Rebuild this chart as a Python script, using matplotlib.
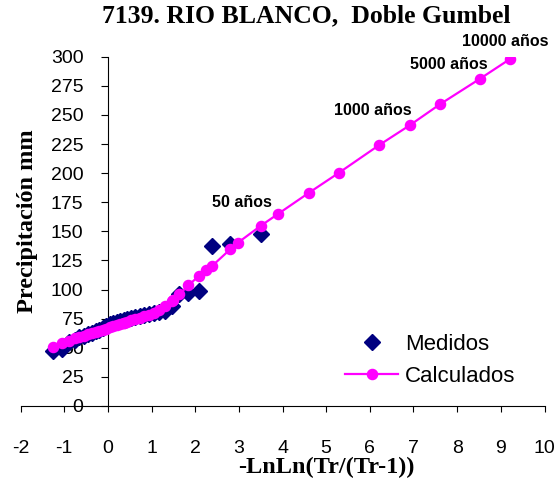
import matplotlib
matplotlib.use("Agg")
import matplotlib.pyplot as plt
from matplotlib import font_manager

# data
med_x = [-1.26, -1.04, -0.89, -0.76, -0.65, -0.55, -0.46, -0.37, -0.28, -0.20, -0.12,
         -0.04, 0.04, 0.12, 0.20, 0.28, 0.37, 0.45, 0.54, 0.63, 0.73, 0.83, 0.94,
         1.05, 1.18, 1.32, 1.47, 1.64, 1.84, 2.08, 2.38, 2.80, 3.51]
med_y = [47, 49, 55, 57, 59, 60, 61.5, 63, 64, 65.5, 67,
         69, 70, 71, 72, 73, 74, 75, 75.5, 76.5, 77, 78, 79,
         80, 81, 82, 86, 96, 97, 99, 137, 139, 148]

calc_x = [-1.26, -1.04, -0.89, -0.76, -0.65, -0.55, -0.46, -0.37, -0.28, -0.20, -0.12,
          -0.04, 0.04, 0.12, 0.20, 0.28, 0.37, 0.37, 0.45, 0.54, 0.63, 0.73, 0.83,
          0.94, 1.05, 1.18, 1.32, 1.47, 1.50, 1.64, 1.84, 2.08, 2.25, 2.38, 2.80,
          2.97, 3.51, 3.90, 4.60, 5.30, 6.21, 6.91, 7.60, 8.52, 9.21]
calc_y = [51, 54, 56, 58, 59.5, 60.5, 61.5, 62.5, 63.5, 64.5, 65.5,
          66.5, 67.5, 68.5, 69.5, 70.5, 71.5, 71.5, 72.5, 73.5, 74.5, 76, 77,
          78.5, 80, 82.5, 85.5, 90, 91, 96, 103.5, 111.5, 117, 120, 134.5,
          140, 155, 165, 183, 200.5, 224, 241, 259, 281, 298]

notas = ["50 años", "1000 años", "5000 años", "10000 años"]
notas_x = [3.07, 6.07, 7.80, 9.09]
notas_y = [174.5, 253.5, 293, 313]

instalados = {f.name for f in font_manager.fontManager.ttflist}
narrow = "Liberation Sans Narrow" if "Liberation Sans Narrow" in instalados else "Liberation Sans"

plt.rcParams['font.family'] = ['Liberation Sans', 'DejaVu Sans']
plt.rcParams['axes.unicode_minus'] = False

fig = plt.figure(figsize=(5.6, 4.79), dpi=100)
ax = fig.add_axes([20.5/560, 1-406/479, 524/560, 349.3/479])

ax.plot(med_x, med_y, linestyle='none', marker='D', markersize=7.8,
        color='#000080', label='Medidos', zorder=3)
ax.plot(calc_x, calc_y, color='#ff00ff', linewidth=1.6, marker='o',
        markersize=7.3, label='Calculados', zorder=4)

for t, x, y in zip(notas, notas_x, notas_y):
    ax.text(x, y, t, ha='center', va='center', fontsize=11.5, fontweight='bold',
            family=[narrow, 'DejaVu Sans'], clip_on=False)

ax.set_xlim(-2, 10)
ax.set_ylim(0, 300)
ax.set_xticks(range(-2, 11))
ax.set_yticks(range(0, 301, 25))

ax.spines['top'].set_visible(False)
ax.spines['right'].set_visible(False)
ax.spines['left'].set_position(('data', 0))
ax.spines['left'].set_linewidth(0.8)
ax.spines['bottom'].set_linewidth(0.8)
ax.tick_params(axis='x', direction='out', length=4.5, width=0.8, pad=20, labelsize=14)
ax.tick_params(axis='y', direction='out', length=5, width=0.8, pad=12.5, labelsize=14)

fig.text(306/560, 1-16/479, "7139. RIO BLANCO,  Doble Gumbel", ha='center', va='center',
         fontsize=18.5, fontweight='bold', family=['Liberation Serif', 'DejaVu Serif'])
fig.text(27.5/560, 1-221.5/479, "Precipitación mm", ha='center', va='center', rotation=90,
         fontsize=17.5, fontweight='bold', family=['Liberation Serif', 'DejaVu Serif'])
fig.text(326/560, 1-467/479, "-LnLn(Tr/(Tr-1))", ha='center', va='center',
         fontsize=17.5, fontweight='bold', family=['Liberation Serif', 'DejaVu Serif'])

ax.legend(loc='upper left', bbox_to_anchor=(345/560, 1-334/479), bbox_transform=fig.transFigure,
          frameon=False, fontsize=16, handlelength=2.4, handletextpad=0.3,
          labelspacing=0.48, borderpad=0, borderaxespad=0)

fig.savefig("out.png", dpi=100)
